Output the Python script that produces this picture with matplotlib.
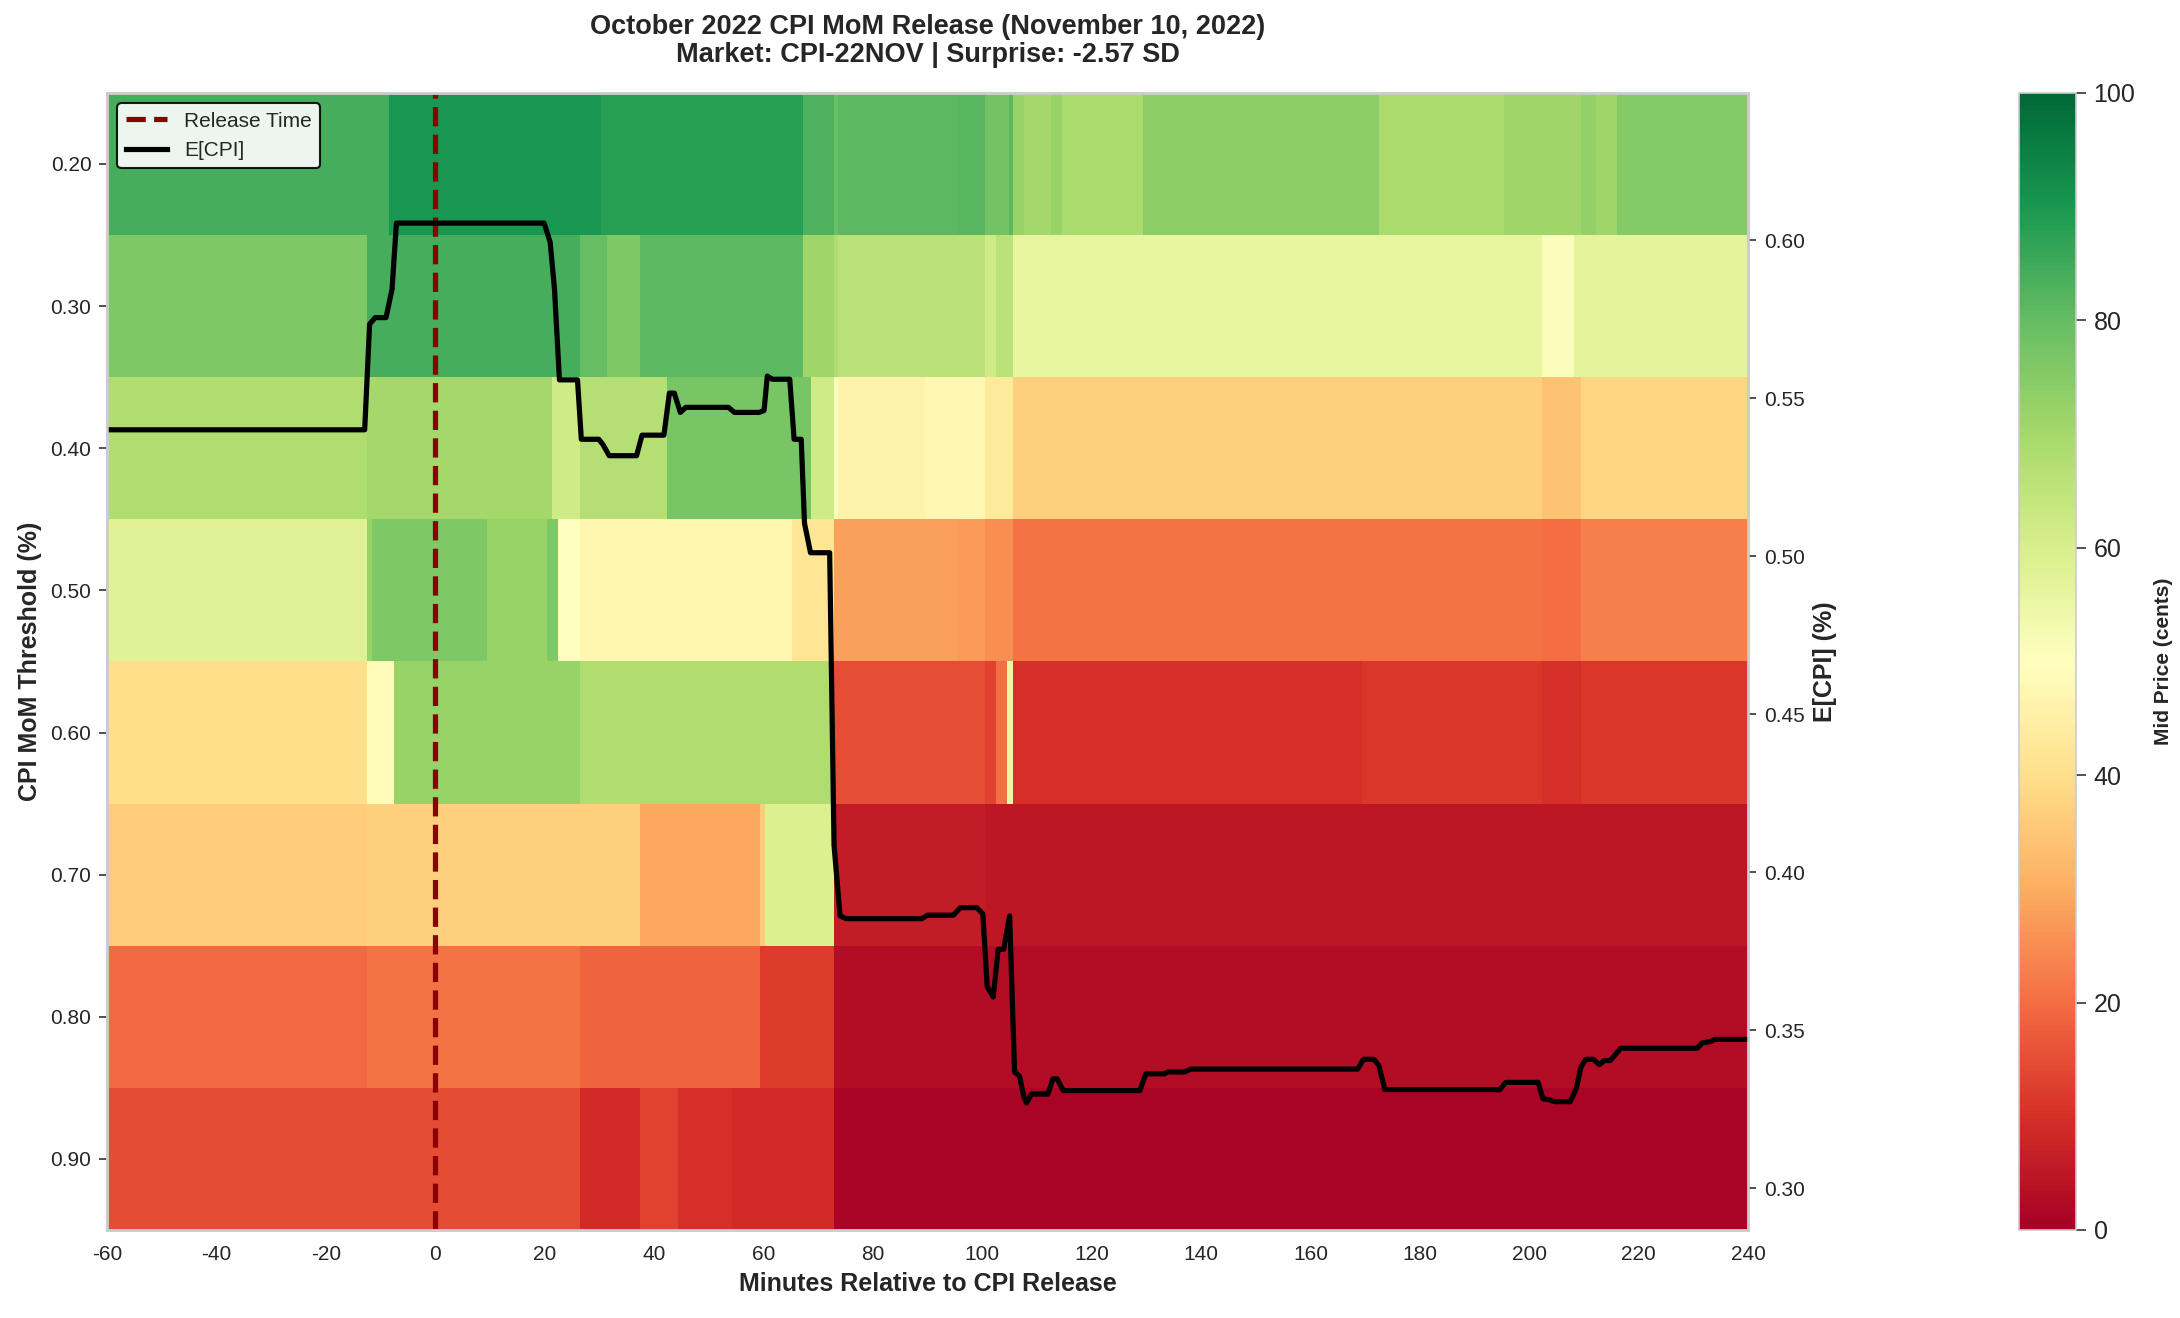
import matplotlib
matplotlib.use("Agg")
import matplotlib.pyplot as plt
from matplotlib.lines import Line2D

plt.rcParams['font.family'] = ['Liberation Sans', 'DejaVu Sans']
plt.rcParams['axes.unicode_minus'] = False
plt.rcParams['text.color'] = '#262626'
plt.rcParams['axes.labelcolor'] = '#262626'
plt.rcParams['xtick.color'] = '#262626'
plt.rcParams['ytick.color'] = '#262626'

# thresholds (rows of the heatmap)
thresholds = [0.20, 0.30, 0.40, 0.50, 0.60, 0.70, 0.80, 0.90]

# per-row change points (minutes) and mid prices (cents) between them
edges_020 = [-60, -8.4, 30.3, 67.2, 72.9, 73.6, 95.6, 100.5, 104.8, 105.7, 107.6,
             112.6, 114.6, 129.4, 172.5, 195.4, 209.4, 212.2, 216.1, 240]
vals_020 = [84, 90, 88, 83, 79, 81, 82, 78, 81, 72, 70, 72, 69, 74, 69, 71, 73, 71, 75]

edges_030 = [-60, -12.4, 26.4, 31.4, 37.5, 67.2, 72.9, 73.6, 100.5, 102.5, 105.7,
             202.4, 208.2, 240]
vals_030 = [76, 84, 80, 76, 81, 71, 68, 66, 62, 66, 56, 51, 57]

edges_040 = [-60, -12.4, 21.4, 26.4, 42.4, 68.7, 72.9, 73.6, 89.6, 100.5, 105.7,
             202.4, 209.4, 240]
vals_040 = [68, 70, 62, 67, 77, 62, 51, 46, 48, 43, 37, 34, 38]

edges_050 = [-60, -12.4, -11.6, 9.5, 20.4, 22.5, 26.4, 65.2, 72.9, 95.6, 100.5,
             105.7, 202.4, 209.4, 240]
vals_050 = [58, 72, 76, 72, 76, 50, 47, 42, 28, 27, 25, 21, 20, 23]

edges_060 = [-60, -12.4, -7.5, 26.4, 72.9, 100.5, 102.5, 104.5, 105.7, 169.5,
             202.4, 209.4, 240]
vals_060 = [40, 49, 72, 68, 15, 13, 20, 55, 10, 11, 10, 11]

edges_070 = [-60, -12.4, 26.4, 37.5, 59.4, 60.3, 72.9, 100.5, 240]
vals_070 = [36, 37, 37, 29, 36, 59, 6, 5]

edges_080 = [-60, -12.4, 26.4, 59.4, 72.9, 240]
vals_080 = [19.5, 21, 18.5, 12, 3]

edges_090 = [-60, 26.4, 37.5, 44.4, 54.3, 72.9, 240]
vals_090 = [14.5, 9, 13, 10, 9, 1]

row_edges = [edges_020, edges_030, edges_040, edges_050,
             edges_060, edges_070, edges_080, edges_090]
row_vals = [vals_020, vals_030, vals_040, vals_050,
            vals_060, vals_070, vals_080, vals_090]

# expected CPI line
ecpi_min = [-60, -12.9, -12.0, -11.0, -9.0, -7.9, -7.1, 19.9, 21.0, 21.8, 22.7, 26.0,
            26.7, 29.9, 30.7, 31.8, 36.8, 37.8, 41.8, 42.8, 43.7, 44.8, 45.8, 53.6,
            54.7, 59.2, 60.1, 60.7, 61.6, 64.8, 65.6, 66.9, 67.5, 68.6, 72.1, 72.9,
            74.0, 75.1, 88.9, 90.0, 94.7, 96.0, 99.0, 100.1, 100.9, 102.0, 102.9,
            103.9, 105.0, 105.9, 106.8, 107.6, 108.1, 109.0, 112.0, 112.9, 113.7,
            114.8, 128.8, 129.9, 133.3, 133.9, 137.0, 138.1, 168.6, 169.7, 171.6,
            172.5, 173.6, 194.6, 195.7, 201.6, 202.5, 203.6, 204.7, 207.5, 208.6,
            209.4, 210.3, 211.7, 212.8, 213.7, 214.8, 216.7, 230.7, 231.6, 233.2,
            233.8, 240]
ecpi_val = [0.540, 0.540, 0.5734, 0.5755, 0.5755, 0.5845, 0.6054, 0.6054, 0.5994,
            0.5845, 0.5558, 0.5558, 0.537, 0.537, 0.5352, 0.5318, 0.5318, 0.5383,
            0.5383, 0.5516, 0.5516, 0.5455, 0.5471, 0.5471, 0.5455, 0.5455, 0.5461,
            0.557, 0.556, 0.556, 0.537, 0.537, 0.5104, 0.5011, 0.5011, 0.4085,
            0.3862, 0.3853, 0.3853, 0.3864, 0.3864, 0.3888, 0.3888, 0.3868, 0.3638,
            0.3605, 0.3756, 0.3756, 0.3862, 0.3368, 0.3355, 0.3289, 0.3270, 0.3298,
            0.3298, 0.3346, 0.3346, 0.3309, 0.3309, 0.3362, 0.3362, 0.3368, 0.3368,
            0.3377, 0.3377, 0.3408, 0.3408, 0.3388, 0.3312, 0.3312, 0.3335, 0.3335,
            0.3283, 0.3280, 0.3274, 0.3274, 0.3316, 0.3381, 0.3408, 0.3408, 0.3391,
            0.3404, 0.3404, 0.3443, 0.3443, 0.3460, 0.3464, 0.3471, 0.3471]

x_ticks = list(range(-60, 241, 20))
ecpi_ticks = [0.30, 0.35, 0.40, 0.45, 0.50, 0.55, 0.60]
cbar_ticks = [0, 20, 40, 60, 80, 100]

fig = plt.figure(figsize=(2180 / 150, 1318 / 150), dpi=150)
ax = fig.add_axes([0.0491, 0.0668, 0.7528, 0.8627])
cax = fig.add_axes([0.9261, 0.0668, 0.0261, 0.8627])

mesh = None
for t, e, v in zip(thresholds, row_edges, row_vals):
    mesh = ax.pcolormesh(e, [t - 0.05, t + 0.05], [v], cmap='RdYlGn',
                         vmin=0, vmax=100, shading='flat')

ax.set_xlim(-60, 240)
ax.set_ylim(0.95, 0.15)
ax.set_xticks(x_ticks)
ax.set_yticks(thresholds)
ax.set_yticklabels([f"{t:.2f}" for t in thresholds])
ax.axvline(0, color='darkred', linestyle='--', linewidth=2.5)
ax.set_xlabel("Minutes Relative to CPI Release", fontsize=12, fontweight='bold')
ax.set_ylabel("CPI MoM Threshold (%)", fontsize=12, fontweight='bold')
ax.set_title("October 2022 CPI MoM Release (November 10, 2022)\n"
             "Market: CPI-22NOV | Surprise: -2.57 SD",
             fontsize=13, fontweight='bold', pad=15, linespacing=1.1)

ax2 = ax.twinx()
ax2.plot(ecpi_min, ecpi_val, color='black', linewidth=2.5)
ax2.set_ylim(0.2868, 0.6466)
ax2.set_yticks(ecpi_ticks)
ax2.set_yticklabels([f"{t:.2f}" for t in ecpi_ticks])
ax2.set_ylabel("E[CPI] (%)", fontsize=12, fontweight='bold')

for a in (ax, ax2):
    for s in a.spines.values():
        s.set_color('#cccccc')
        s.set_linewidth(1.2)
    a.tick_params(labelsize=10, length=4, color='#333333')
ax.tick_params(axis='x', length=0, pad=7)

handles = [Line2D([], [], color='darkred', linestyle='--', linewidth=2.5),
           Line2D([], [], color='black', linewidth=2.5)]
leg = ax2.legend(handles, ["Release Time", "E[CPI]"], loc='upper left',
                 fontsize=10, framealpha=0.9, fancybox=True)
leg.get_frame().set_edgecolor('black')

cb = fig.colorbar(mesh, cax=cax, ticks=cbar_ticks)
cb.outline.set_edgecolor('#cccccc')
cb.ax.tick_params(labelsize=12, length=5, color='#333333')
cb.set_label("Mid Price (cents)", fontsize=10, fontweight='bold', labelpad=9)

fig.savefig("out.png", dpi=150)
